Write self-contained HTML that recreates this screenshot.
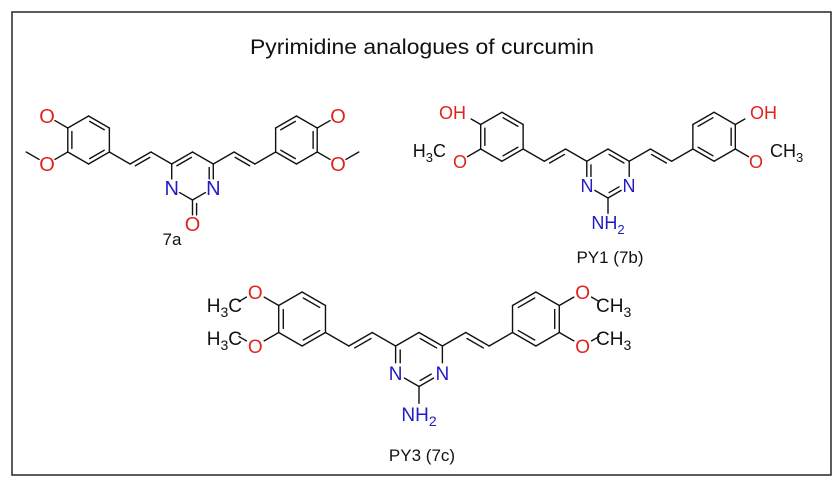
<!DOCTYPE html>
<html><head><meta charset="utf-8"><style>
html,body{margin:0;padding:0;background:#fff}
svg{display:block}
text{font-family:"Liberation Sans",Arial,sans-serif}
.r{fill:#e0241c}.b{fill:#2219c8}.k{fill:#111}
</style></head><body>
<svg id="s" width="837" height="484" viewBox="0 0 837 484" xmlns="http://www.w3.org/2000/svg">
<rect x="0" y="0" width="837" height="484" fill="#fff"/>
<rect x="12" y="12" width="819" height="463" fill="#fff" stroke="#333" stroke-width="1.6"/>
<g id="bonds" stroke="#111" stroke-width="1.4" stroke-linecap="round" fill="none"></g>
<g id="labels">
<text x="422" y="54" font-size="21" text-anchor="middle" class="k" textLength="344" lengthAdjust="spacingAndGlyphs">Pyrimidine analogues of curcumin</text>

<!-- 7a -->
<text x="171.7" y="195" font-size="20" text-anchor="middle" class="b">N</text>
<text x="213.3" y="195" font-size="20" text-anchor="middle" class="b">N</text>
<text x="192.5" y="231" font-size="20" text-anchor="middle" class="r">O</text>
<text x="47" y="123" font-size="20" text-anchor="middle" class="r">O</text>
<text x="47" y="171" font-size="20" text-anchor="middle" class="r">O</text>
<text x="338" y="123" font-size="20" text-anchor="middle" class="r">O</text>
<text x="338" y="171" font-size="20" text-anchor="middle" class="r">O</text>
<text x="172" y="245" font-size="17" text-anchor="middle" class="k">7a</text>

<!-- 7b -->
<text x="587" y="192" font-size="18" text-anchor="middle" class="b">N</text>
<text x="629" y="192" font-size="18" text-anchor="middle" class="b">N</text>
<text x="608" y="229" font-size="18" text-anchor="middle" class="b">NH<tspan font-size="13" dy="5">2</tspan></text>
<text x="466" y="119" font-size="18" text-anchor="end" class="r">OH</text>
<text x="750" y="119" font-size="18" text-anchor="start" class="r">OH</text>
<text x="460" y="168" font-size="18" text-anchor="middle" class="r">O</text>
<text x="756" y="168" font-size="18" text-anchor="middle" class="r">O</text>
<text x="446" y="157" font-size="18" text-anchor="end" class="k">H<tspan font-size="13" dy="5">3</tspan><tspan dy="-5">C</tspan></text>
<text x="770" y="157" font-size="18" text-anchor="start" class="k">CH<tspan font-size="13" dy="5">3</tspan></text>
<text x="610" y="263" font-size="17" text-anchor="middle" class="k">PY1 (7b)</text>

<!-- 7c -->
<text x="395.6" y="380" font-size="19" text-anchor="middle" class="b">N</text>
<text x="442.4" y="380" font-size="19" text-anchor="middle" class="b">N</text>
<text x="419" y="421" font-size="19" text-anchor="middle" class="b">NH<tspan font-size="14" dy="5">2</tspan></text>
<text x="255.3" y="299" font-size="19" text-anchor="middle" class="r">O</text>
<text x="255.3" y="353" font-size="19" text-anchor="middle" class="r">O</text>
<text x="582.7" y="299" font-size="19" text-anchor="middle" class="r">O</text>
<text x="582.7" y="353" font-size="19" text-anchor="middle" class="r">O</text>
<text x="242" y="312" font-size="19" text-anchor="end" class="k">H<tspan font-size="14" dy="5">3</tspan><tspan dy="-5">C</tspan></text>
<text x="242" y="345" font-size="19" text-anchor="end" class="k">H<tspan font-size="14" dy="5">3</tspan><tspan dy="-5">C</tspan></text>
<text x="596" y="312" font-size="19" text-anchor="start" class="k">CH<tspan font-size="14" dy="5">3</tspan></text>
<text x="596" y="345" font-size="19" text-anchor="start" class="k">CH<tspan font-size="14" dy="5">3</tspan></text>
<text x="422" y="461" font-size="17" text-anchor="middle" class="k">PY3 (7c)</text>
</g>
</svg>
<script>
(function(){
var g=document.getElementById('bonds');var NS='http://www.w3.org/2000/svg';
var labs=[];
function near(p){for(var i=0;i<labs.length;i++){var q=labs[i];if(Math.abs(q[0]-p[0])<0.5&&Math.abs(q[1]-p[1])<0.5)return q[2];}return 0;}
function ln(a,b){var l=document.createElementNS(NS,'line');l.setAttribute('x1',a[0]);l.setAttribute('y1',a[1]);l.setAttribute('x2',b[0]);l.setAttribute('y2',b[1]);g.appendChild(l);}
function seg(a,b){
 var dx=b[0]-a[0],dy=b[1]-a[1],len=Math.hypot(dx,dy);
 var ra=near(a),rb=near(b);
 var a2=[a[0]+dx*ra/len,a[1]+dy*ra/len],b2=[b[0]-dx*rb/len,b[1]-dy*rb/len];
 ln(a2,b2);return [a2,b2];
}
function mol(cx,cy,L,type){
 var c=0.866;
 function P(u,v){return [cx+u*L,cy+v*L];}
 function dbl(a,b,ref){
  var dx=b[0]-a[0],dy=b[1]-a[1],len=Math.hypot(dx,dy);var nx=-dy/len,ny=dx/len;
  var mx=(a[0]+b[0])/2-ref[0],my=(a[1]+b[1])/2-ref[1];
  if(nx*mx+ny*my>0){nx=-nx;ny=-ny;}
  var o=0.17*L,ux=dx/len,uy=dy/len;
  var sa=near(a)?near(a):0.15*L, sb=near(b)?near(b):0.15*L;
  ln([a[0]+ux*sa+nx*o,a[1]+uy*sa+ny*o],[b[0]-ux*sb+nx*o,b[1]-uy*sb+ny*o]);
 }
 function B(a,b,d,ref){seg(a,b);if(d)dbl(a,b,ref);}
 var C5=P(0,-1),C4=P(c,-.5),N3=P(c,.5),C2=P(0,1),N1=P(-c,.5),C6=P(-c,-.5),PC=P(0,0);
 var R=0.38*L;
 labs.push([N1[0],N1[1],R],[N3[0],N3[1],R]);
 var sub=P(0,2);
 if(type==='a'){
  labs.push([sub[0],sub[1],R]);
 } else {
  labs.push([sub[0],sub[1],R]);
 }
 [-1,1].forEach(function(s){
  var Ot=P(s*7*c,-2.5),Ob=P(s*7*c,-.5);
  labs.push([Ob[0],Ob[1],R]);
  if(type==='b'){labs.push([Ot[0],Ot[1],0.55*L]);} else labs.push([Ot[0],Ot[1],R]);
  if(type==='c'){var m1=P(s*8*c,-2),m2=P(s*8*c,-1);labs.push([m1[0],m1[1],0.3*L],[m2[0],m2[1],0.3*L]);}
 });
 if(type==='a'){
  B(C5,C6,1,PC);B(C5,C4,0);B(C4,N3,1,PC);B(N3,C2,0);B(C2,N1,0);B(N1,C6,0);
  B(C2,sub,1,P(1,1.5));
 } else {
  B(C5,C4,1,PC);B(C5,C6,0);B(C6,N1,1,PC);B(N1,C2,0);B(C2,N3,1,PC);B(N3,C4,0);
  B(C2,sub,0);
 }
 [-1,1].forEach(function(s){
  function Q(u,v){return P(s*u,v);}
  var st=s<0?C6:C4;
  var Cb=Q(2*c,-1),Ca=Q(3*c,-.5),R1=Q(4*c,-1),RC=Q(5*c,-1.5);
  B(st,Cb,0);B(Cb,Ca,1,Q(2.5*c,0.2));B(Ca,R1,0);
  var top=Q(5*c,-2.5),tr=Q(4*c,-2),br=R1,bot=Q(5*c,-.5),bl=Q(6*c,-1),tl=Q(6*c,-2);
  B(top,tr,1,RC);B(tr,br,0);B(br,bot,1,RC);B(bot,bl,0);B(bl,tl,1,RC);B(tl,top,0);
  var Ot=Q(7*c,-2.5),Ob=Q(7*c,-.5);
  B(tl,Ot,0);B(bl,Ob,0);
  if(type==='a'){B(Ob,Q(8*c,-1),0);}
  if(type==='c'){B(Ot,Q(8*c,-2),0);B(Ob,Q(8*c,-1),0);}
 });
}
mol(192.5,176,24,'a');
mol(608,173.5,24.5,'b');
mol(419,359.5,27,'c');
})();
</script>
</body></html>
